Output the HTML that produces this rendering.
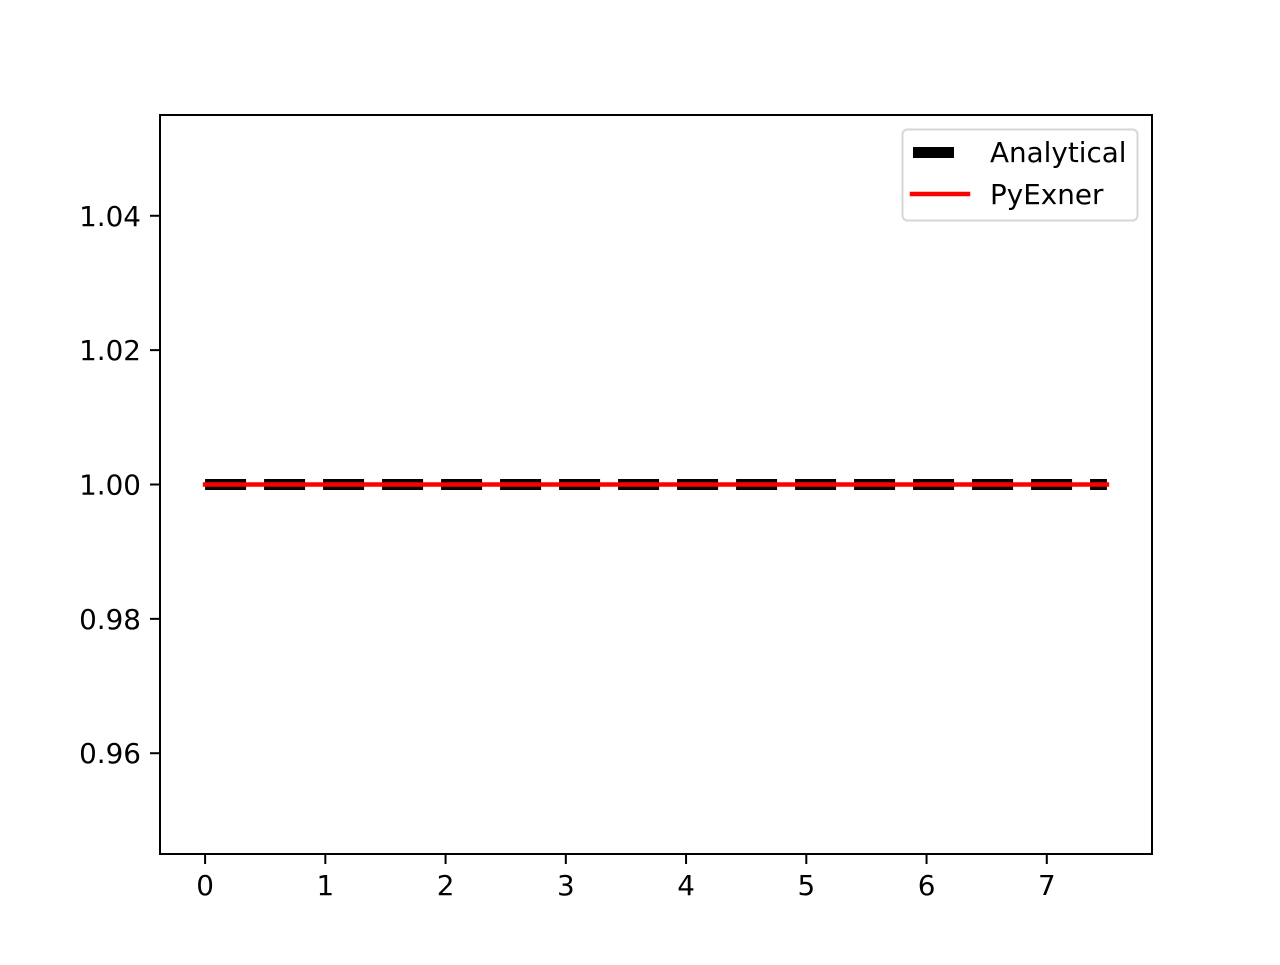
<!DOCTYPE html>
<html><head><meta charset="utf-8"><style>
body{margin:0;background:#fff}
svg text{font-family:"DejaVu Sans","Liberation Sans",sans-serif;font-size:27.8px;fill:#000}
</style></head><body>
<svg id="chart" width="1280" height="960" xmlns="http://www.w3.org/2000/svg">
<rect width="1280" height="960" fill="#fff"/>
<g id="plot"></g>
<g id="xticks"></g>
<g id="yticks"></g>
<rect x="160" y="115" width="992" height="739" fill="none" stroke="#000" stroke-width="2"/>
<g>
<rect x="902.5" y="129.5" width="235" height="91" rx="5" fill="#fff" fill-opacity="0.8" stroke="#d6d6d6" stroke-width="2"/>
<line x1="913" y1="152.5" x2="954" y2="152.5" stroke="#000" stroke-width="11"/>
<text x="990" y="162">Analytical</text>
<line x1="912" y1="194" x2="968" y2="194" stroke="#f00" stroke-width="4.5" stroke-linecap="square"/>
<text x="990" y="204">PyExner</text>
</g>
</svg>
<script>
const xValues=[0,7.5];
const analyticalValues=[1,1];
const pyexnerValues=[1,1];
const xTickLabels=["0","1","2","3","4","5","6","7"];
const yTickLabels=["0.96","0.98","1.00","1.02","1.04"];
const xmin=-0.375,xmax=7.875,ymin=0.945,ymax=1.055;
const L=160,R=1152,T=115,B=854;
const sx=v=>L+(v-xmin)/(xmax-xmin)*(R-L);
const sy=v=>B-(v-ymin)/(ymax-ymin)*(B-T);
const NS="http://www.w3.org/2000/svg";
function mk(tag,attrs,parent){const e=document.createElementNS(NS,tag);for(const k in attrs)e.setAttribute(k,attrs[k]);document.getElementById(parent).appendChild(e);return e;}
const plot="plot";
const pts=a=>xValues.map((x,i)=>sx(x)+","+sy(a[i])).join(" ");
let a=mk("polyline",{points:pts(analyticalValues),fill:"none",stroke:"#000","stroke-width":11,"stroke-dasharray":"41 18"},plot);


let p=mk("polyline",{points:pts(pyexnerValues),fill:"none",stroke:"#f00","stroke-width":4.5,"stroke-linecap":"square"},plot);


xTickLabels.forEach(t=>{const x=sx(parseFloat(t));
 let l=mk("line",{x1:x,y1:B,x2:x,y2:B+10,stroke:"#000","stroke-width":2},"xticks");
 
 
 let tx=mk("text",{x:x,y:B+41,"text-anchor":"middle"},"xticks");tx.textContent=t;
 
 
});
yTickLabels.forEach(t=>{const y=sy(parseFloat(t));
 let l=mk("line",{x1:L-10,y1:y,x2:L,y2:y,stroke:"#000","stroke-width":2},"yticks");
 
 
 let tx=mk("text",{x:L-19,y:y+10,"text-anchor":"end"},"yticks");tx.textContent=t;
 
 
});
</script>
</body></html>
